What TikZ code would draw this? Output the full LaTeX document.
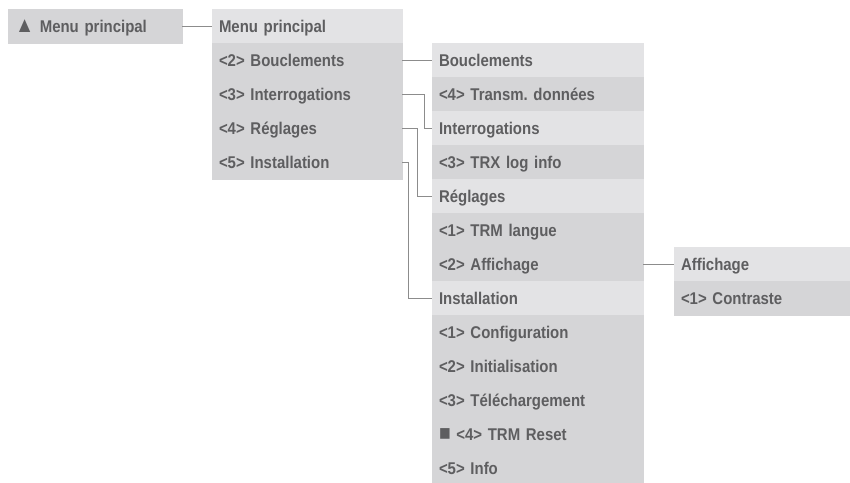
\documentclass[tikz,border=0pt]{standalone}
\usepackage{fontspec}
\newfontfamily\menufont[FakeStretch=0.88]{Liberation Sans}
\newcommand\bigmark[1]{{\fontsize{22}{18}\selectfont\raisebox{-0.5pt}{#1}}}
\usetikzlibrary{positioning}
\definecolor{hdgray}{HTML}{E3E3E5}
\definecolor{itgray}{HTML}{D5D5D7}
\definecolor{txtgray}{HTML}{5E5E60}
\definecolor{lngray}{HTML}{8C8C8C}

\begin{document}
\begin{tikzpicture}[
  x=1pt,y=-1pt,
  node distance=0pt and 30pt,
  row/.style={rectangle,minimum height=34pt,inner xsep=7pt,inner ysep=0pt,
              outer sep=0pt,align=left,text=txtgray,line width=0.6pt,
              text height=14pt,text depth=1.5pt,
              font=\menufont\bfseries\frenchspacing\fontsize{17}{18}\selectfont},
  hd/.style={row,fill=hdgray,draw=hdgray},
  it/.style={row,fill=itgray,draw=itgray},
  colA/.style={text width=176pt},
  colB/.style={text width=197pt},
  colC/.style={text width=162pt},
  link/.style={draw=lngray,line width=0.9pt}
]
  \useasboundingbox (0,0) rectangle (850,482);

  \node[hd,colA,anchor=north west] (m0) at (212,9) {Menu principal};
  \node[it,colA,below=of m0] (m1) {<2> Bouclements};
  \node[it,colA,below=of m1] (m2) {<3> Interrogations};
  \node[it,colA,below=of m2] (m3) {<4> Réglages};
  \node[it,colA,below=of m3] (m4) {<5> Installation};
  \node[it,text width=160pt,left=of m0] (top) {\bigmark{▲} Menu principal};

  \node[hd,colB,right=of m1] (b0) {Bouclements};
  \node[it,colB,below=of b0] (b1) {<4> Transm. données};
  \node[hd,colB,below=of b1] (b2) {Interrogations};
  \node[it,colB,below=of b2] (b3) {<3> TRX log info};
  \node[hd,colB,below=of b3] (b4) {Réglages};
  \node[it,colB,below=of b4] (b5) {<1> TRM langue};
  \node[it,colB,below=of b5] (b6) {<2> Affichage};
  \node[hd,colB,below=of b6] (b7) {Installation};
  \node[it,colB,below=of b7] (b8) {<1> Configuration};
  \node[it,colB,below=of b8] (b9) {<2> Initialisation};
  \node[it,colB,below=of b9] (b10) {<3> Téléchargement};
  \node[it,colB,below=of b10] (b11) {\bigmark{■} <4> TRM Reset};
  \node[it,colB,below=of b11] (b12) {<5> Info};

  \node[hd,colC,right=31pt of b6] (c0) {Affichage};
  \node[it,colC,below=of c0] (c1) {<1> Contraste};

  \draw[link] (top) -- (m0);
  \draw[link] (m1) -- (b0);
  \draw[link] (m2.east) -- ++(22,0) |- (b2.west);
  \draw[link] (m3.east) -- ++(15,0) |- (b4.west);
  \draw[link] (m4.east) -- ++(6,0) |- (b7.west);
  \draw[link] (b6) -- (c0);
\end{tikzpicture}
\end{document}
